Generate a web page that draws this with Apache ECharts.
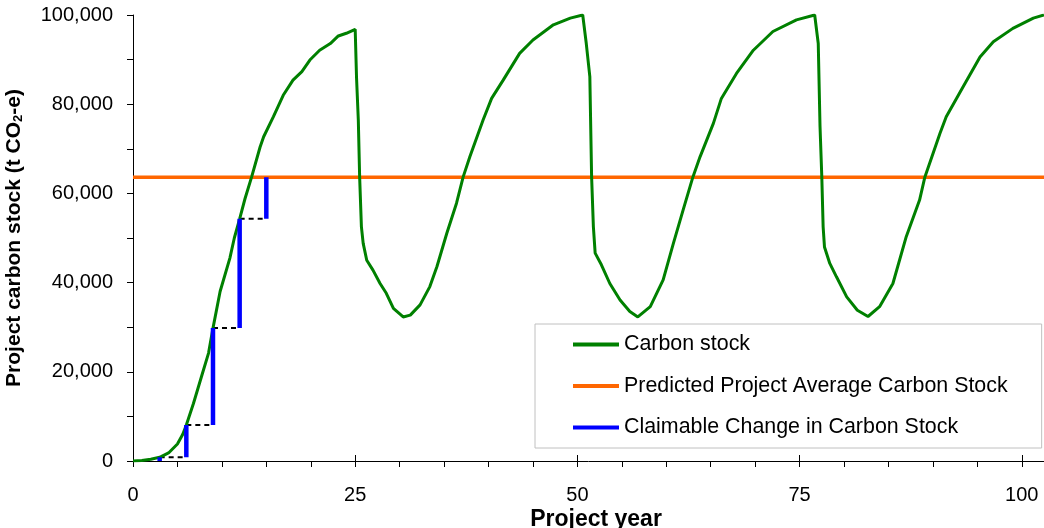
<!DOCTYPE html>
<html>
<head>
<meta charset="utf-8">
<script src="https://cdn.jsdelivr.net/npm/echarts@6/dist/echarts.min.js"></script>
<style>
html,body{margin:0;padding:0;background:#fff;}
#chart{width:1044px;height:528px;}
</style>
</head>
<body>
<div id="chart"></div>
<script>
// ---- data ----
const xTickLabels = [0, 25, 50, 75, 100];
const yTickLabels = [0, 20000, 40000, 60000, 80000, 100000];

const stockYears = [0,1,2,3,4,5,5.6,6,6.8,7.7,8.5,9,9.8,10.9,11.4,12,12.6,13.35,14.3,14.7,15.8,16.9,18,19,19.9,21,22.2,23.1,24,25,
  25.15,25.35,25.5,25.7,25.9,26.3,27,27.8,28.5,29.3,30.4,31.2,32.3,33.4,34.2,35.3,36.4,37.15,37.9,39.4,40.35,41.65,43.5,45,47.3,49.2,50.6,
  51,51.4,51.6,51.8,52,52.7,53.65,54.8,55.9,56.8,58.2,59.65,60.8,61.9,63,63.8,65.3,66.2,67.9,69.8,72,74.65,76.7,
  77.1,77.3,77.5,77.65,77.8,78.4,79.15,80.3,81.5,82.7,84,85.5,87,88.5,89.1,90.8,91.5,93.4,95.3,96.8,99,101.3,102.5];
const stockValues = [0,100,400,830,1800,3800,6000,8070,12900,18900,24200,29800,38000,45500,50000,54300,58800,63700,70400,72700,77200,82000,85400,87300,89900,92100,93600,95300,95900,96800,
  86000,76500,63700,52500,48800,45000,42800,39800,37600,34200,32300,32700,35000,39100,43600,51000,57800,63700,68200,76500,81300,85400,91400,94400,97800,99300,100000,
  93600,86200,63700,52500,46600,44000,39800,36100,33500,32300,34600,40600,48800,56300,63700,68200,75700,81300,86900,92100,96300,98900,100000,
  93600,75000,63700,52500,48000,44300,41300,36800,33800,32400,34600,39800,50300,58500,63700,73500,77200,83900,90600,94000,97000,99300,100000];

const averageStock = 63600;

const claimYears = [3, 6, 9, 12, 15];
const claimValues = [830, 8070, 29800, 54300, 63600];

// ---- build series data ----
const stockData = stockYears.map((x, i) => [x, stockValues[i]]);
const avgData = [[0, averageStock], [102.5, averageStock]];
const claimData = [];
const dashData = [];
for (let i = 0; i < claimYears.length; i++) {
  const prev = i === 0 ? 0 : claimValues[i - 1];
  claimData.push([claimYears[i], prev], [claimYears[i], claimValues[i]], [claimYears[i], '-']);
  if (i > 0) {
    dashData.push([claimYears[i - 1], prev], [claimYears[i], prev], [claimYears[i], '-']);
  }
}

const FONT = '"Liberation Sans", Arial, sans-serif';
const chart = echarts.init(document.getElementById('chart'), null, {renderer: 'canvas'});

chart.setOption({
  animation: false,
  backgroundColor: '#ffffff',
  grid: {left: 133, top: 15, right: 0, bottom: 67, containLabel: false, outerBoundsMode: 'none'},
  graphic: [{
    type: 'text', x: 596, y: 520,
    style: {text: 'Project year', font: 'bold 23px ' + FONT, fill: '#000', align: 'center', verticalAlign: 'middle'}
  }],
  xAxis: [{
    type: 'value', min: 0, max: 102.5, interval: 5,
    axisLine: {show: true, onZero: false, lineStyle: {color: '#000', width: 1}},
    axisTick: {show: true, inside: false, length: 6, lineStyle: {color: '#000', width: 1}},
    axisLabel: {show: true, interval: 0, margin: 24, fontSize: 20, fontFamily: FONT, color: '#000',
      showMaxLabel: false,
      formatter: v => (xTickLabels.indexOf(v) >= 0 ? String(v) : '')},
    splitLine: {show: false}
  }, {
    type: 'value', min: 0, max: 102.5, interval: 25, position: 'bottom', gridIndex: 0,
    axisLine: {show: false, onZero: false},
    axisTick: {show: true, inside: true, length: 6, lineStyle: {color: '#000', width: 1}},
    axisLabel: {show: false},
    splitLine: {show: false}
  }],
  yAxis: {
    type: 'value', min: 0, max: 100000, interval: 10000,
    name: 'Project carbon stock (t CO{sub|2}-e)', nameLocation: 'middle', nameGap: 108,
    nameTextStyle: {fontSize: 21, fontWeight: 'bold', fontFamily: FONT, color: '#000',
      rich: {sub: {fontSize: 13, fontWeight: 'bold', fontFamily: FONT, color: '#000', verticalAlign: 'bottom', padding: [8, 0, 0, 0]}}},
    axisLine: {show: true, lineStyle: {color: '#000', width: 1}},
    axisTick: {show: true, inside: false, length: 6, lineStyle: {color: '#000', width: 1}},
    axisLabel: {show: true, interval: 0, margin: 20, fontSize: 20, fontFamily: FONT, color: '#000',
      formatter: v => (yTickLabels.indexOf(v) >= 0 ? v.toLocaleString('en-US') : '')},
    splitLine: {show: false}
  },
  legend: {
    orient: 'vertical', left: 535, top: 324,
    padding: [10, 34, 10, 38], itemGap: 20.5, itemWidth: 46, itemHeight: 4,
    backgroundColor: '#fff', borderColor: '#c0c0c0', borderWidth: 1, borderRadius: 0,
    textStyle: {fontSize: 21.4, fontFamily: FONT, color: '#000'},
    data: [
      {name: 'Carbon stock', icon: 'rect'},
      {name: 'Predicted Project Average Carbon Stock', icon: 'rect'},
      {name: 'Claimable Change in Carbon Stock', icon: 'rect'}
    ]
  },
  series: [
    {name: 'Dashed steps', type: 'line', data: dashData, showSymbol: false, symbol: 'none',
      connectNulls: false, silent: true, z: 2,
      lineStyle: {color: '#000', width: 2, type: [5, 4]}, itemStyle: {color: '#000'}},
    {name: 'Predicted Project Average Carbon Stock', type: 'line', data: avgData, showSymbol: false, symbol: 'none', z: 3,
      lineStyle: {color: '#ff6600', width: 3.5}, itemStyle: {color: '#ff6600'}},
    {name: 'Carbon stock', type: 'line', data: stockData, showSymbol: false, symbol: 'none', z: 4,
      lineStyle: {color: '#008000', width: 3}, itemStyle: {color: '#008000'}},
    {name: 'Claimable Change in Carbon Stock', type: 'line', data: claimData, showSymbol: false, symbol: 'none',
      connectNulls: false, z: 5,
      lineStyle: {color: '#0000ff', width: 4.5, cap: 'butt'}, itemStyle: {color: '#0000ff'}}
  ]
});
</script>
</body>
</html>
